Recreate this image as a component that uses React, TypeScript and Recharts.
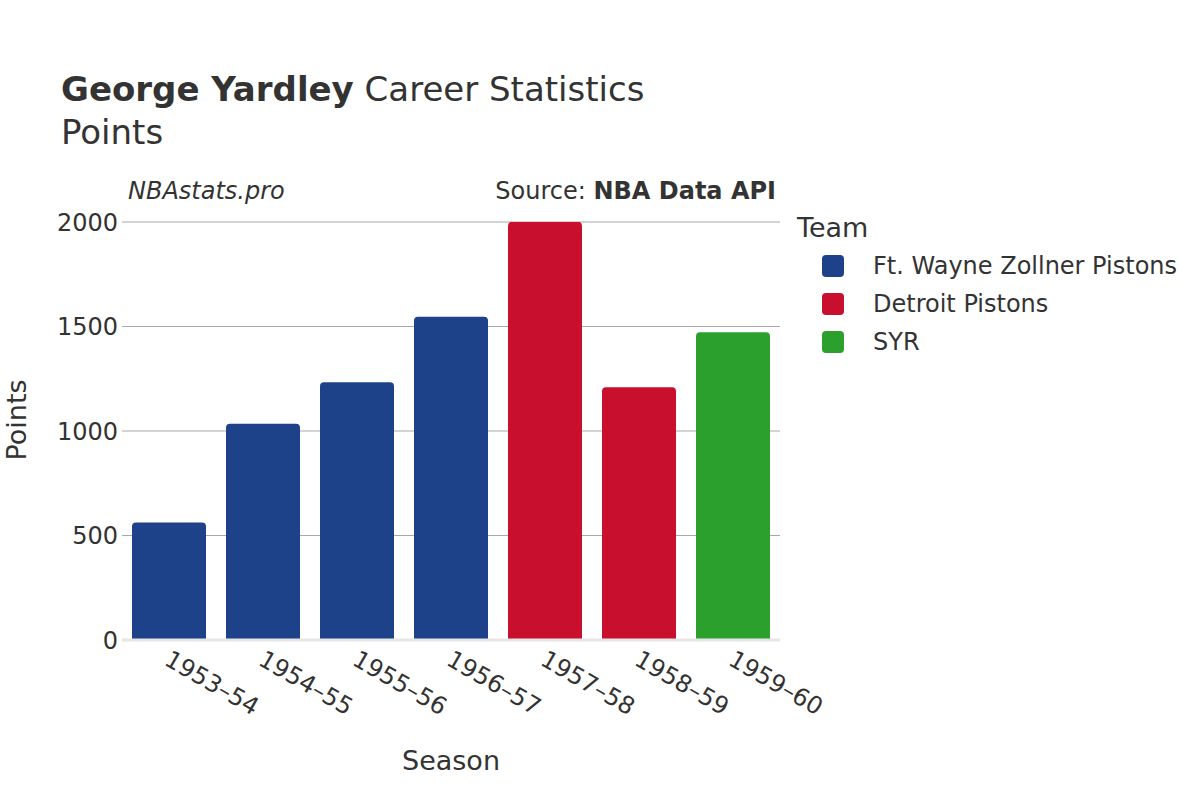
import { BarChart, Bar, Cell, CartesianGrid, XAxis, YAxis, ReferenceLine } from "recharts";

const seasons = ["1953–54", "1954–55", "1955–56", "1956–57", "1957–58", "1958–59", "1959–60"];
const points = [562, 1035, 1233, 1547, 2001, 1209, 1473];
const teamOf = ["FTW", "FTW", "FTW", "FTW", "DET", "DET", "SYR"];

const teams = ["FTW", "DET", "SYR"];
const teamNames = ["Ft. Wayne Zollner Pistons", "Detroit Pistons", "SYR"];
const teamColors = ["#1d4289", "#c8102e", "#2ca02c"];

const yTicks = [0, 500, 1000, 1500, 2000];

const FONT = "DejaVu Sans, sans-serif";
const TEXT = "#333333";

const data = seasons.map((s, i) => ({ season: s, points: points[i], team: teamOf[i] }));

function SeasonTick(props: any) {
  const { x, y, payload } = props;
  const tx = x - 6;
  const ty = y + 22;
  return (
    <text
      x={tx}
      y={ty}
      transform={`rotate(30, ${tx}, ${ty})`}
      textAnchor="start"
      fontSize={24}
      fontFamily={FONT}
      fill={TEXT}
    >
      {payload.value}
    </text>
  );
}

export default function App() {
  return (
    <div style={{ position: "absolute", left: 0, top: 0, width: 1200, height: 800, background: "#fff" }}>
      <BarChart
        width={1200}
        height={800}
        data={data}
        margin={{ top: 222, right: 420, bottom: 0, left: 62 }}
      >
        <CartesianGrid vertical={false} stroke="#a8a8a8" strokeWidth={1} />
        <XAxis
          dataKey="season"
          axisLine={false}
          tickLine={false}
          tickSize={0}
          height={160}
          interval={0}
          tick={<SeasonTick />}
        />
        <YAxis
          domain={[0, 2000]}
          allowDataOverflow
          ticks={yTicks}
          axisLine={false}
          tickLine={false}
          tickSize={0}
          tickMargin={4}
          width={60}
          tick={{ fontSize: 24, fontFamily: FONT, fill: TEXT }}
        />
        <ReferenceLine y={0} stroke="#e6e6e6" strokeWidth={3} />
        <Bar dataKey="points" barSize={74} radius={[4, 4, 0, 0]} isAnimationActive={false}>
          {data.map((d, i) => (
            <Cell key={`c-${i}`} fill={teamColors[teams.indexOf(d.team)]} />
          ))}
        </Bar>
      </BarChart>

      <svg
        width={1200}
        height={800}
        style={{ position: "absolute", left: 0, top: 0, pointerEvents: "none" }}
        fontFamily={FONT}
        fill={TEXT}
      >
        <text x={61} y={101} fontSize={34}>
          <tspan fontWeight="bold">George Yardley</tspan>
          <tspan> Career Statistics</tspan>
        </text>
        <text x={61} y={144} fontSize={34}>
          Points
        </text>
        <text x={128} y={199} fontSize={24} fontStyle="italic">
          NBAstats.pro
        </text>
        <text x={776} y={199} fontSize={24} textAnchor="end">
          <tspan>Source: </tspan>
          <tspan fontWeight="bold">NBA Data API</tspan>
        </text>
        <text x={451} y={770} fontSize={27} textAnchor="middle">
          Season
        </text>
        <text x={26} y={420} fontSize={27} textAnchor="middle" transform="rotate(-90, 26, 420)">
          Points
        </text>
        <text x={797} y={237} fontSize={27}>
          Team
        </text>
        {teamNames.map((name, i) => (
          <g key={name}>
            <rect x={822} y={255 + i * 38} width={22} height={22} rx={4} fill={teamColors[i]} />
            <text x={873} y={274 + i * 38} fontSize={24}>
              {name}
            </text>
          </g>
        ))}
      </svg>
    </div>
  );
}
